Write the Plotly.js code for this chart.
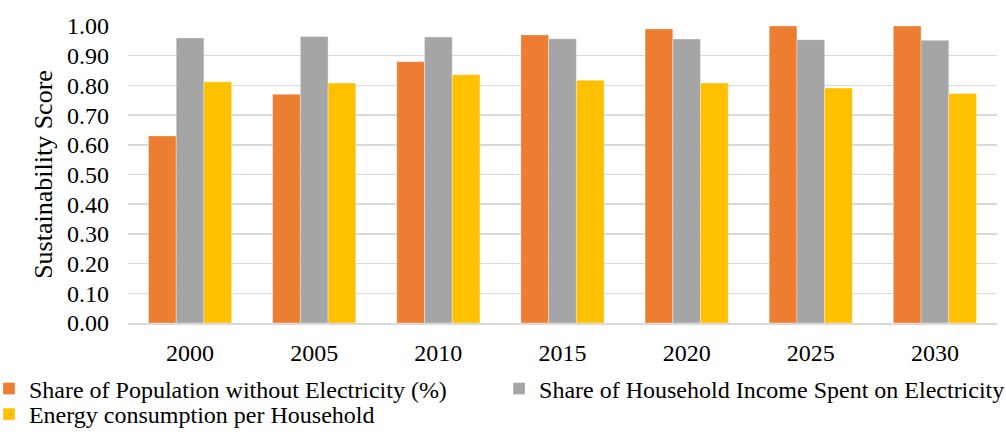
<!DOCTYPE html>
<html>
<head>
<meta charset="utf-8">
<script src="https://cdn.plot.ly/plotly-3.0.1.min.js"></script>
<style>
  html, body { margin: 0; padding: 0; background: #fff; }
  #chart { width: 1006px; height: 437px; }
</style>
</head>
<body>
<div id="chart"></div>
<script>
// Years on the category axis
const years = ['2000', '2005', '2010', '2015', '2020', '2025', '2030'];

// Sustainability scores per indicator
const populationWithoutElectricity = [0.63, 0.77, 0.88, 0.97, 0.99, 1.00, 1.00];
const incomeSpentOnElectricity     = [0.96, 0.965, 0.963, 0.957, 0.956, 0.954, 0.952];
const energyPerHousehold           = [0.812, 0.808, 0.836, 0.817, 0.808, 0.791, 0.773];

const seriesNames = [
  'Share of Population without Electricity (%)',
  'Share of Household Income Spent on Electricity',
  'Energy consumption per Household'
];
const seriesColors = ['#ED7D31', '#A5A5A5', '#FFC000'];
const seriesValues = [populationWithoutElectricity, incomeSpentOnElectricity, energyPerHousehold];
// each series gets its own legend box so the entries can be laid out in two rows
const seriesLegend = ['legend', 'legend2', 'legend3'];

const serif = 'Liberation Serif';

const traces = seriesValues.map((vals, i) => ({
  type: 'bar',
  name: seriesNames[i],
  x: years,
  y: vals,
  legend: seriesLegend[i],
  marker: { color: seriesColors[i], line: { width: 1, color: 'rgba(255,255,255,0.35)' } },
  hoverinfo: 'x+y+name'
}));

const legendBase = {
  orientation: 'h',
  xanchor: 'left',
  yanchor: 'middle',
  font: { family: serif, size: 24, color: '#000' },
  traceorder: 'normal',
  bgcolor: 'rgba(0,0,0,0)',
  borderwidth: 0
};

const layout = {
  width: 1006,
  height: 437,
  margin: { l: 128, r: 9, t: 26, b: 114, pad: 0, autoexpand: false },
  paper_bgcolor: '#ffffff',
  plot_bgcolor: '#ffffff',
  font: { family: serif, size: 24, color: '#000000' },
  barmode: 'group',
  bargap: 0.33,
  bargroupgap: 0,
  xaxis: {
    type: 'category',
    automargin: false,
    showgrid: false,
    showline: true,
    linecolor: '#D9D9D9',
    linewidth: 1.5,
    ticks: '',
    ticklabelstandoff: 8,
    tickfont: { family: serif, size: 24, color: '#000' }
  },
  yaxis: {
    automargin: false,
    range: [0, 1.0],
    dtick: 0.1,
    tick0: 0,
    tickformat: '.2f',
    showgrid: true,
    gridcolor: '#D9D9D9',
    gridwidth: 1.5,
    zeroline: false,
    ticks: '',
    ticklabelstandoff: 18,
    tickfont: { family: serif, size: 24, color: '#000' },
    title: { text: 'Sustainability Score', font: { family: serif, size: 26, color: '#000' }, standoff: 6 }
  },
  legend: Object.assign({}, legendBase, { x: -0.16, y: -0.222 }),
  legend2: Object.assign({}, legendBase, { x: 0.427, y: -0.222 }),
  legend3: Object.assign({}, legendBase, { x: -0.16, y: -0.3838, yanchor: 'bottom' }),
  showlegend: true
};

Plotly.newPlot('chart', traces, layout, { displayModeBar: false, staticPlot: true });
</script>
</body>
</html>
